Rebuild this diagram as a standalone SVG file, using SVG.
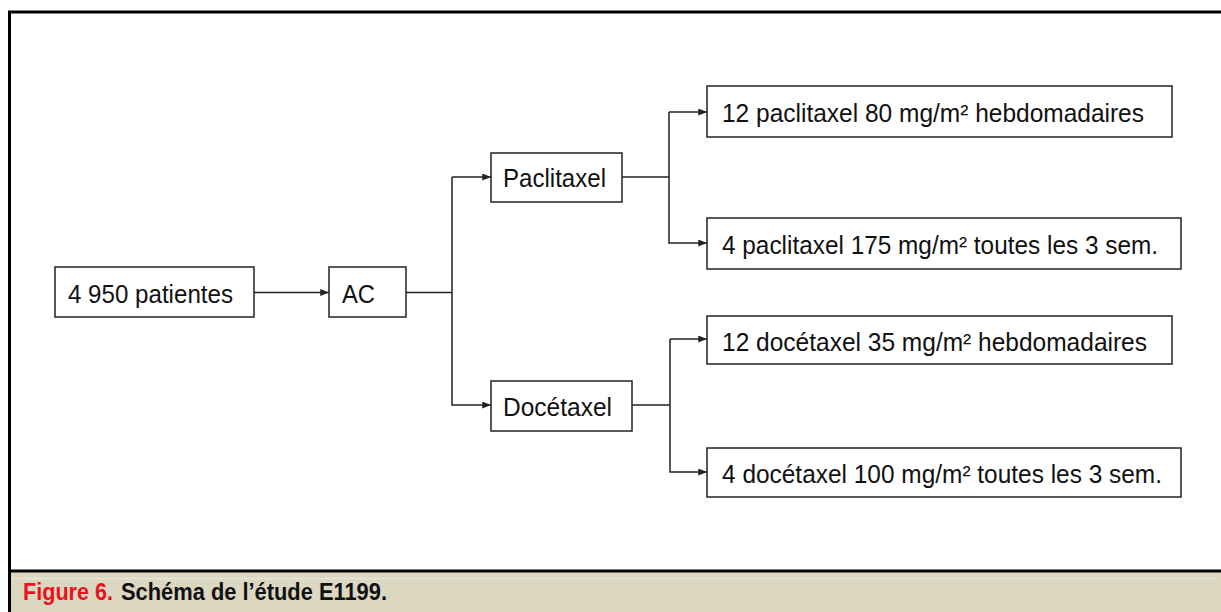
<svg xmlns="http://www.w3.org/2000/svg" width="1221" height="612" viewBox="0 0 1221 612">
<style>
.box{fill:#fff;stroke:#222;stroke-width:1.5}
.t{font-family:"Liberation Sans",Arial,sans-serif;font-size:26px;fill:#111}
.c{fill:none;stroke:#222;stroke-width:1.5}
.cap{font-family:"Liberation Sans",Arial,sans-serif;font-size:24px;font-weight:bold}
</style>
<defs>
<marker id="ah" viewBox="0 0 10 8" refX="10" refY="4" markerWidth="9" markerHeight="7" markerUnits="userSpaceOnUse" orient="auto">
<path d="M0,0 L10,4 L0,8 z" fill="#222"/>
</marker>
</defs>
<rect x="0" y="0" width="1221" height="612" fill="#fff"/>
<rect x="9.5" y="571" width="1213" height="41" fill="#DCD7C1"/>
<line x1="11" y1="578.5" x2="1217" y2="578.5" stroke="#E9E5D6" stroke-width="1.5"/>
<path d="M9.5,612 V12 H1221" fill="none" stroke="#000" stroke-width="3"/>
<line x1="9.5" y1="571" x2="1221" y2="571" stroke="#000" stroke-width="3"/>
<text class="cap" x="23" y="600" fill="#E8141B" textLength="90" lengthAdjust="spacingAndGlyphs">Figure 6.</text>
<text class="cap" x="121" y="600" fill="#111" textLength="266" lengthAdjust="spacingAndGlyphs">Schéma de l’étude E1199.</text>
<g id="connectors">
<line class="c" x1="254" y1="292.5" x2="329" y2="292.5" marker-end="url(#ah)"/>
<line class="c" x1="406" y1="292.5" x2="452" y2="292.5"/>
<polyline class="c" points="452,177 452,405 491,405" marker-end="url(#ah)"/>
<path class="c" d="M452,177 H491" marker-end="url(#ah)"/>
<line class="c" x1="622" y1="177" x2="669" y2="177"/>
<polyline class="c" points="669,112 669,243 707,243" marker-end="url(#ah)"/>
<path class="c" d="M669,112 H707" marker-end="url(#ah)"/>
<line class="c" x1="632" y1="405" x2="670" y2="405"/>
<polyline class="c" points="670,339 670,472 707,472" marker-end="url(#ah)"/>
<path class="c" d="M670,339 H707" marker-end="url(#ah)"/>
</g>
<g id="patientes">
<rect class="box" x="55" y="267" width="199" height="50"/>
<text class="t" x="68" y="303" textLength="165" lengthAdjust="spacingAndGlyphs">4 950 patientes</text>
</g>
<g id="ac">
<rect class="box" x="329" y="267" width="77" height="50"/>
<text class="t" x="342" y="303" textLength="33" lengthAdjust="spacingAndGlyphs">AC</text>
</g>
<g id="paclitaxel">
<rect class="box" x="491" y="153" width="131" height="49"/>
<text class="t" x="503" y="187" textLength="103" lengthAdjust="spacingAndGlyphs">Paclitaxel</text>
</g>
<g id="docetaxel">
<rect class="box" x="491" y="381" width="141" height="50"/>
<text class="t" x="503" y="416" textLength="109" lengthAdjust="spacingAndGlyphs">Docétaxel</text>
</g>
<g id="pac80">
<rect class="box" x="707" y="86" width="465" height="51"/>
<text class="t" x="722" y="122" textLength="422" lengthAdjust="spacingAndGlyphs">12 paclitaxel 80 mg/m² hebdomadaires</text>
</g>
<g id="pac175">
<rect class="box" x="707" y="218" width="474" height="51"/>
<text class="t" x="722" y="254" textLength="436" lengthAdjust="spacingAndGlyphs">4 paclitaxel 175 mg/m² toutes les 3 sem.</text>
</g>
<g id="doc35">
<rect class="box" x="707" y="316" width="465" height="48"/>
<text class="t" x="722" y="351" textLength="425" lengthAdjust="spacingAndGlyphs">12 docétaxel 35 mg/m² hebdomadaires</text>
</g>
<g id="doc100">
<rect class="box" x="707" y="448" width="474" height="49"/>
<text class="t" x="722" y="483" textLength="440" lengthAdjust="spacingAndGlyphs">4 docétaxel 100 mg/m² toutes les 3 sem.</text>
</g>
</svg>
